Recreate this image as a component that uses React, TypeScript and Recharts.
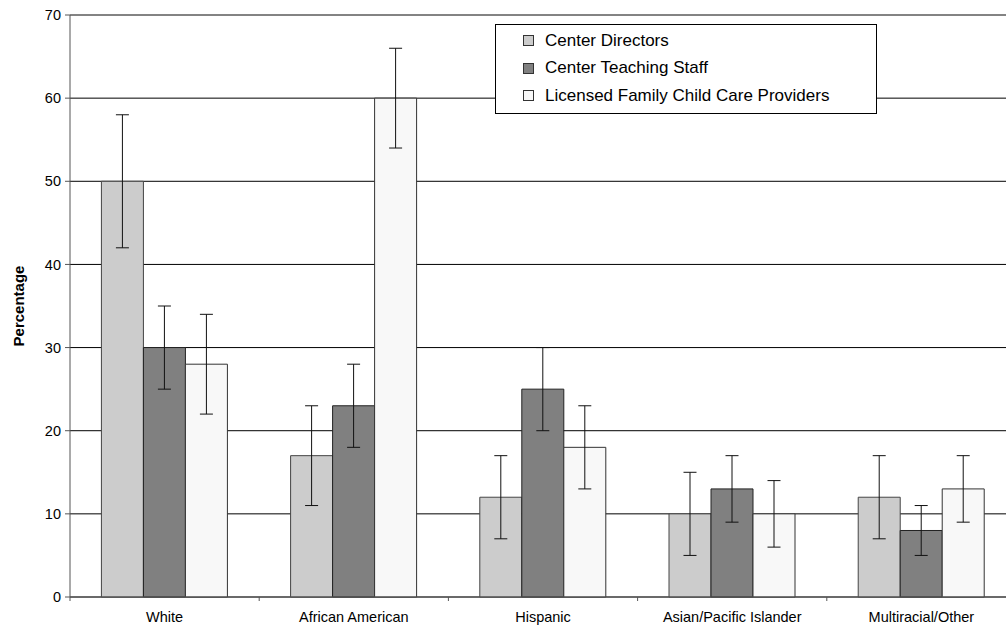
import React from 'react';
import { BarChart, Bar, XAxis, YAxis, CartesianGrid, Legend, ErrorBar, ReferenceLine } from 'recharts';

// chart values
const categories = ['White', 'African American', 'Hispanic', 'Asian/Pacific Islander', 'Multiracial/Other'];
const directors = [50, 17, 12, 10, 12];
const teachingStaff = [30, 23, 25, 13, 8];
const familyProviders = [28, 60, 18, 10, 13];
const directorsErr = [8, 6, 5, 5, 5];
const teachingErr = [5, 5, 5, 4, 3];
const familyErr = [6, 6, 5, 4, 4];
const yTicks = [0, 10, 20, 30, 40, 50, 60, 70];

const seriesNames = ['Center Directors', 'Center Teaching Staff', 'Licensed Family Child Care Providers'];
const seriesColors = ['#cccccc', '#808080', '#f8f8f8'];

const data = categories.map((name, i) => ({
  name,
  dir: directors[i],
  dirErr: directorsErr[i],
  staff: teachingStaff[i],
  staffErr: teachingErr[i],
  fcc: familyProviders[i],
  fccErr: familyErr[i],
}));

const FONT = '"Liberation Sans", Arial, sans-serif';
const CHART_W = 1016;
const CHART_H = 627;
const Y_AXIS_W = 70;
const BAND = (CHART_W - Y_AXIS_W) / categories.length;

const XTick = (props: any) => {
  const { x, y, payload } = props;
  return (
    <g>
      <line x1={x - BAND / 2} x2={x - BAND / 2} y1={y} y2={y + 4} stroke="#555" />
      <text x={x} y={y + 25} textAnchor="middle" fontSize={14.5} fontFamily={FONT} fill="#000">
        {payload.value}
      </text>
    </g>
  );
};

const LegendBox = () => (
  <div
    style={{
      boxSizing: 'border-box',
      width: 382,
      height: 90,
      border: '1px solid #000',
      background: '#fff',
      paddingTop: 2,
      paddingLeft: 27,
      fontFamily: FONT,
      fontSize: 17,
      color: '#000',
    }}
  >
    {seriesNames.map((n, i) => (
      <div key={n} style={{ display: 'flex', alignItems: 'center', height: 27.5 }}>
        <span
          style={{
            display: 'inline-block',
            width: 9,
            height: 9,
            background: seriesColors[i],
            border: '1px solid #333',
            marginRight: 11,
          }}
        />
        <span>{n}</span>
      </div>
    ))}
  </div>
);

const YLabel = (props: any) => {
  const vb = props.viewBox || { y: 15, height: 582 };
  const cy = vb.y + vb.height / 2;
  return (
    <text
      x={23.5}
      y={cy}
      transform={`rotate(-90, 23.5, ${cy})`}
      textAnchor="middle"
      fontWeight="bold"
      fontSize={15}
      fontFamily={FONT}
      fill="#000"
    >
      Percentage
    </text>
  );
};

export default function App() {
  return (
    <div style={{ position: 'absolute', left: 0, top: 0, width: 1006, height: 627, overflow: 'hidden', background: '#fff' }}>
      <BarChart
        width={CHART_W}
        height={CHART_H}
        data={data}
        margin={{ top: 15, right: 0, left: 0, bottom: 0 }}
        barCategoryGap="16.6%"
        barGap={0}
      >
        <CartesianGrid vertical={false} stroke="#000" />
        <XAxis
          dataKey="name"
          height={30}
          axisLine={{ stroke: '#555' }}
          tickLine={false}
          tickSize={0}
          tickMargin={0}
          tick={<XTick />}
          interval={0}
        />
        <YAxis
          width={Y_AXIS_W}
          domain={[0, 70]}
          ticks={yTicks}
          interval={0}
          axisLine={{ stroke: '#555' }}
          tickLine={{ stroke: '#555' }}
          tickSize={5}
          tickMargin={4}
          tick={{ fontSize: 14.5, fontFamily: FONT, fill: '#000' }}
          label={{ content: <YLabel /> }}
        />
        <ReferenceLine y={70} stroke="#888" />
        <Legend
          layout="vertical"
          align="center"
          verticalAlign="middle"
          content={<LegendBox />}
          wrapperStyle={{ left: 495, top: 24, width: 382, height: 90 }}
        />
        <Bar dataKey="dir" name={seriesNames[0]} fill={seriesColors[0]} stroke="#444" strokeWidth={1} isAnimationActive={false}>
          <ErrorBar dataKey="dirErr" width={6.5} stroke="#111" strokeWidth={1} direction="y" isAnimationActive={false} />
        </Bar>
        <Bar dataKey="staff" name={seriesNames[1]} fill={seriesColors[1]} stroke="#222" strokeWidth={1} isAnimationActive={false}>
          <ErrorBar dataKey="staffErr" width={6.5} stroke="#111" strokeWidth={1} direction="y" isAnimationActive={false} />
        </Bar>
        <Bar dataKey="fcc" name={seriesNames[2]} fill={seriesColors[2]} stroke="#333" strokeWidth={1} isAnimationActive={false}>
          <ErrorBar dataKey="fccErr" width={6.5} stroke="#111" strokeWidth={1} direction="y" isAnimationActive={false} />
        </Bar>
      </BarChart>
    </div>
  );
}
